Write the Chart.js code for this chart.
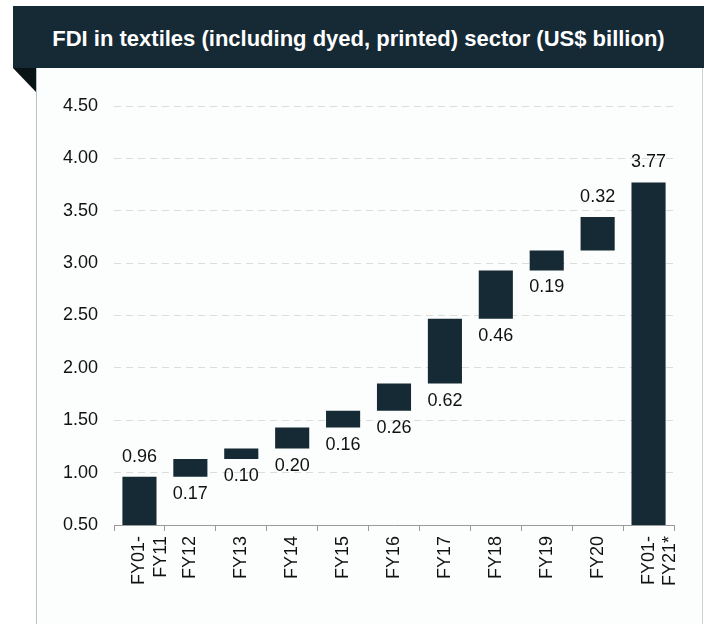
<!DOCTYPE html>
<html>
<head>
<meta charset="utf-8">
<script src="https://cdn.jsdelivr.net/npm/chart.js@4/dist/chart.umd.min.js"></script>
<style>
  html, body { margin: 0; padding: 0; background: #ffffff; width: 704px; height: 624px; overflow: hidden; }
  #banner { position: absolute; left: 13px; top: 6px; width: 691px; height: 62px; background: #152a35; box-sizing: border-box; padding-top: 4px;
    color: #ffffff; font: bold 22px "Liberation Sans", Arial, sans-serif; display: flex; align-items: center; justify-content: center; }
  #fold { position: absolute; left: 13px; top: 68px; width: 0; height: 0;
    border-top: 24px solid #091316; border-left: 23px solid transparent; }
  #panel { position: absolute; left: 36px; top: 68px; width: 665px; height: 556px; background: #fcfdfd;
    border-left: 1px solid #b5c3c8; border-right: 1px solid #c9d1d4; }
  #wrap { position: absolute; left: 37px; top: 68px; width: 665px; height: 556px; }
</style>
</head>
<body>
<div id="banner">FDI in textiles (including dyed, printed) sector (US$ billion)</div>
<div id="panel"></div>
<div id="fold"></div>
<div id="wrap"><canvas id="c" width="665" height="556"></canvas></div>
<script>
// ---- data ----
const categories = [['FY01-', 'FY11'], 'FY12', 'FY13', 'FY14', 'FY15', 'FY16', 'FY17', 'FY18', 'FY19', 'FY20', ['FY01-', 'FY21*']];
const values = [0.96, 0.17, 0.10, 0.20, 0.16, 0.26, 0.62, 0.46, 0.19, 0.32, 3.77];
const barKinds = ['total', 'step', 'step', 'step', 'step', 'step', 'step', 'step', 'step', 'step', 'total'];
const yTicks = [0.50, 1.00, 1.50, 2.00, 2.50, 3.00, 3.50, 4.00, 4.50];

// floating bar ranges built from the values
let running = 0;
const ranges = values.map((v, i) => {
  if (barKinds[i] === 'total') { running = v; return [0, v]; }
  const r = [running, running + v];
  running += v;
  return r;
});

const FONT = '"Liberation Sans", Arial, sans-serif';
const DARK = '#152a35';

const labelPlugin = {
  id: 'valueLabels',
  afterDatasetsDraw(chart) {
    const ctx = chart.ctx;
    const ys = chart.scales.y;
    const meta = chart.getDatasetMeta(0);
    ctx.save();
    ctx.font = '18px ' + FONT;
    ctx.fillStyle = '#111111';
    ctx.textAlign = 'center';
    ctx.textBaseline = 'middle';
    meta.data.forEach((el, i) => {
      const [lo, hi] = ranges[i];
      const above = barKinds[i] === 'total' || i === values.length - 2;
      const y = above ? ys.getPixelForValue(hi) - 20 : ys.getPixelForValue(lo) + 17;
      ctx.fillText(values[i].toFixed(2), el.x, y);
    });
    ctx.restore();
  }
};

new Chart(document.getElementById('c'), {
  type: 'bar',
  data: {
    labels: categories,
    datasets: [{
      data: ranges,
      backgroundColor: DARK,
      borderWidth: 0,
      barPercentage: 0.67,
      categoryPercentage: 1.0
    }]
  },
  options: {
    responsive: false,
    animation: false,
    layout: { padding: { left: 0, right: 28, top: 38, bottom: 0 } },
    plugins: { legend: { display: false }, tooltip: { enabled: false } },
    scales: {
      x: {
        offset: true,
        grid: { display: true, drawOnChartArea: false, drawTicks: true, tickLength: 6, color: '#9a9a9a', offset: true },
        border: { display: true, color: '#9a9a9a', width: 1 },
        ticks: { minRotation: 90, maxRotation: 90, padding: 5, color: '#111111', font: { family: FONT, size: 18 } },
        afterFit(scale) { scale.height = 99; }
      },
      y: {
        min: yTicks[0],
        max: yTicks[yTicks.length - 1],
        afterBuildTicks(scale) { scale.ticks = yTicks.map(v => ({ value: v })); },
        grid: {
          drawTicks: false,
          color: (c) => (c.tick && c.tick.value === yTicks[0]) ? 'rgba(0,0,0,0)' : '#dcdcdc',
          lineWidth: 1
        },
        border: { display: false, dash: [7, 5] },
        ticks: { padding: 16, color: '#111111', font: { family: FONT, size: 18 }, callback: (v) => Number(v).toFixed(2) },
        afterFit(scale) { scale.width = 77; }
      }
    }
  },
  plugins: [labelPlugin]
});
</script>
</body>
</html>
